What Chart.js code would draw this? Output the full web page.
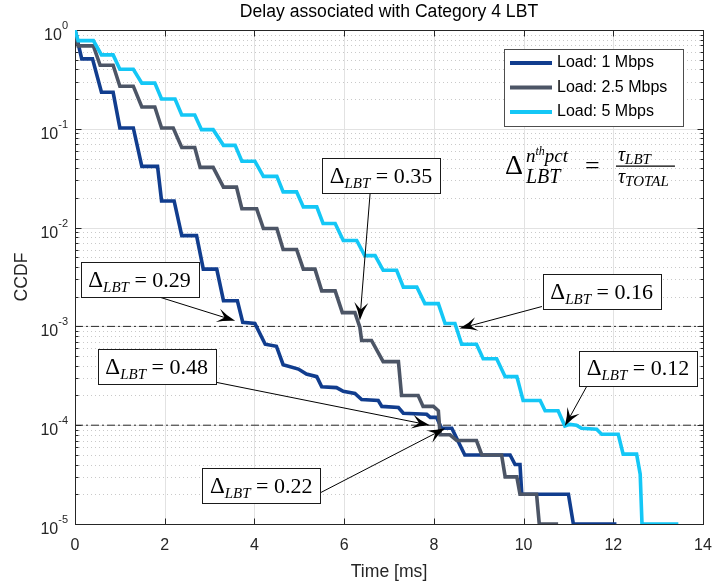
<!DOCTYPE html>
<html>
<head>
<meta charset="utf-8">
<script src="https://cdn.jsdelivr.net/npm/chart.js@4.4.0/dist/chart.umd.min.js"></script>
<style>
  html, body { margin: 0; padding: 0; background: #fff; }
  #ccdf-chart { display: block; }
</style>
</head>
<body>
<canvas id="ccdf-chart" width="715" height="585"></canvas>
<script>
// CCDF of LBT delay, one time/level pair of arrays per offered load
const load1Time = [0, 0.15, 0.39, 0.59, 0.85, 1.00, 1.30, 1.49, 1.84, 1.93, 2.21, 2.38, 2.71, 2.86, 3.16, 3.31, 3.62, 3.74, 4.01, 4.24, 4.49, 4.64, 4.98, 5.16, 5.39, 5.50, 5.83, 5.98, 6.24, 6.39, 6.76, 6.84, 7.21, 7.32, 7.84, 7.92, 8.06, 8.17, 8.40, 8.69, 9.70, 9.81, 9.92, 9.96, 11.00, 11.11, 12.07];
const load1Ccdf = [1, 0.51, 0.51, 0.234, 0.234, 0.102, 0.102, 0.0417, 0.0417, 0.0186, 0.0186, 0.0083, 0.0083, 0.0038, 0.0038, 0.00182, 0.00182, 0.0011, 0.00107, 0.00066, 0.00063, 0.00041, 0.00037, 0.00033, 0.00031, 0.000245, 0.00024, 0.00022, 0.00021, 0.000182, 0.000178, 0.000155, 0.000151, 0.000132, 0.000129, 0.00012, 0.00012, 0.000093, 0.000093, 0.00005, 0.00005, 0.00004, 0.00004, 0.00002, 0.00002, 0.00001, 0.00001];

const load2Time = [0, 0.07, 0.41, 0.56, 0.85, 1.00, 1.30, 1.49, 1.78, 1.93, 2.19, 2.38, 2.67, 2.79, 3.08, 3.31, 3.60, 3.72, 4.05, 4.20, 4.50, 4.64, 4.94, 5.09, 5.35, 5.50, 5.80, 5.96, 6.24, 6.35, 6.39, 6.61, 6.87, 7.21, 7.28, 7.65, 7.76, 7.99, 8.10, 8.14, 8.36, 8.51, 8.95, 9.07, 9.51, 9.59, 9.85, 9.92, 10.29, 10.35, 10.77];
const load2Ccdf = [1, 0.69, 0.69, 0.44, 0.44, 0.27, 0.27, 0.166, 0.166, 0.102, 0.102, 0.0646, 0.0646, 0.0407, 0.0407, 0.0257, 0.0257, 0.0155, 0.0155, 0.0098, 0.0098, 0.006, 0.006, 0.0038, 0.0038, 0.00229, 0.00229, 0.00138, 0.00138, 0.00098, 0.00072, 0.00072, 0.00044, 0.00044, 0.0002, 0.0002, 0.000155, 0.000155, 0.00014, 0.00008, 0.00008, 0.00007, 0.00007, 0.00005, 0.00005, 0.00003, 0.00003, 0.00002, 0.00002, 0.00001, 0.00001];

const load3Time = [0, 0.07, 0.41, 0.59, 0.85, 1.00, 1.30, 1.49, 1.78, 1.93, 2.23, 2.38, 2.67, 2.82, 3.08, 3.31, 3.57, 3.72, 4.01, 4.20, 4.50, 4.64, 4.94, 5.09, 5.39, 5.53, 5.80, 5.98, 6.28, 6.46, 6.69, 6.87, 7.17, 7.32, 7.62, 7.80, 8.10, 8.25, 8.47, 8.62, 8.95, 9.10, 9.40, 9.59, 9.85, 9.99, 10.37, 10.48, 10.77, 10.92, 11.03, 11.18, 11.29, 11.63, 11.74, 12.11, 12.22, 12.52, 12.60, 12.64, 13.45];
const load3Ccdf = [1, 0.78, 0.78, 0.56, 0.56, 0.40, 0.40, 0.29, 0.29, 0.20, 0.20, 0.138, 0.138, 0.098, 0.098, 0.068, 0.068, 0.047, 0.047, 0.033, 0.033, 0.023, 0.023, 0.0162, 0.0162, 0.011, 0.011, 0.0074, 0.0074, 0.0052, 0.0052, 0.0037, 0.0037, 0.0025, 0.0025, 0.0017, 0.0017, 0.00107, 0.00107, 0.00066, 0.00066, 0.00047, 0.00047, 0.00031, 0.00031, 0.000178, 0.000178, 0.00014, 0.00014, 0.000098, 0.000102, 0.0001, 0.000093, 0.000091, 0.000081, 0.000081, 0.000051, 0.000051, 0.000032, 0.00001, 0.00001];

const seriesLabels = ['Load: 1 Mbps', 'Load: 2.5 Mbps', 'Load: 5 Mbps'];
const refLevels = [1e-3, 1e-4];
const xTicks = [0, 2, 4, 6, 8, 10, 12, 14];
const yExponents = [0, -1, -2, -3, -4, -5];
const deltaLabels = ['0.35', '0.29', '0.16', '0.48', '0.22', '0.12'];

const seriesColors = ['#113d8e', '#4c5566', '#14c7f6'];
const FONT = '"Liberation Sans", Arial, Helvetica, sans-serif';
const SERIF = '"Liberation Serif", "Times New Roman", serif';
const AXIS_COLOR = '#262626';

// callout placement in axis units: box centre, arrow tail, arrow tip
const callouts = [
    { label: deltaLabels[0], box: [6.82, 3.35e-2], tail: [6.58, 2.26e-2], tip: [6.35, 1.15e-3] },
    { label: deltaLabels[1], box: [1.44, 2.98e-3], tail: [1.63, 2.15e-3], tip: [3.57, 1.14e-3] },
    { label: deltaLabels[2], box: [11.74, 2.23e-3], tail: [10.41, 1.59e-3], tip: [8.57, 9.5e-4] },
    { label: deltaLabels[3], box: [1.82, 3.9e-4], tail: [3.14, 2.72e-4], tip: [7.91, 1.0e-4] },
    { label: deltaLabels[4], box: [4.15, 2.45e-5], tail: [5.46, 2.06e-5], tip: [8.25, 9.3e-5] },
    { label: deltaLabels[5], box: [12.55, 3.77e-4], tail: [11.41, 2.48e-4], tip: [10.92, 9.8e-5] }
];
const formulaAnchor = [9.585, 3.51e-2];

function toPoints(times, levels) {
    return times.map((t, i) => ({ x: t, y: levels[i] }));
}

function strokeLine(ctx, x1, y1, x2, y2) {
    ctx.beginPath();
    ctx.moveTo(x1, y1);
    ctx.lineTo(x2, y2);
    ctx.stroke();
}

// text made of runs [text, font, dy]; returns total width
function runsWidth(ctx, runs) {
    let w = 0;
    runs.forEach(([text, font]) => { ctx.font = font; w += ctx.measureText(text).width; });
    return w;
}
function drawRuns(ctx, x, y, runs) {
    let cx = x;
    runs.forEach(([text, font, dy]) => {
        ctx.font = font;
        ctx.fillText(text, cx, y + (dy || 0));
        cx += ctx.measureText(text).width;
    });
}

// thin shaft with a swept-back filled head
function drawArrow(ctx, x1, y1, x2, y2) {
    const ang = Math.atan2(y2 - y1, x2 - x1);
    const len = 18, half = 7, notch = 7;
    strokeLine(ctx, x1, y1, x2 - Math.cos(ang) * notch, y2 - Math.sin(ang) * notch);
    ctx.save();
    ctx.translate(x2, y2);
    ctx.rotate(ang);
    ctx.beginPath();
    ctx.moveTo(0, 0);
    ctx.quadraticCurveTo(-len * 0.55, -half * 0.35, -len, -half);
    ctx.lineTo(-len + notch, 0);
    ctx.lineTo(-len, half);
    ctx.quadraticCurveTo(-len * 0.55, half * 0.35, 0, 0);
    ctx.closePath();
    ctx.fill();
    ctx.restore();
}

const axesFrame = {
    id: 'axesFrame',
    beforeDatasetsDraw(chart) {
        const { ctx, chartArea: a, scales: { x, y } } = chart;
        ctx.save();
        ctx.lineWidth = 1;

        // dotted minor grid between decades
        ctx.strokeStyle = '#c9c9c9';
        ctx.setLineDash([1, 3]);
        for (let e = -5; e < 0; e++) {
            for (let m = 2; m <= 9; m++) {
                const py = Math.round(y.getPixelForValue(m * Math.pow(10, e))) + 0.5;
                strokeLine(ctx, a.left, py, a.right, py);
            }
        }
        ctx.setLineDash([]);

        // major grid
        ctx.strokeStyle = '#e2e2e2';
        xTicks.slice(1, -1).forEach(v => {
            const px = Math.round(x.getPixelForValue(v)) + 0.5;
            strokeLine(ctx, px, a.top, px, a.bottom);
        });
        yExponents.slice(1, -1).forEach(e => {
            const py = Math.round(y.getPixelForValue(Math.pow(10, e))) + 0.5;
            strokeLine(ctx, a.left, py, a.right, py);
        });

        // axes box with inward ticks
        ctx.strokeStyle = AXIS_COLOR;
        const L = Math.round(a.left) + 0.5, R = Math.round(a.right) + 0.5;
        const T = Math.round(a.top) + 0.5, B = Math.round(a.bottom) + 0.5;
        ctx.strokeRect(L, T, R - L, B - T);
        xTicks.forEach(v => {
            const px = Math.round(x.getPixelForValue(v)) + 0.5;
            strokeLine(ctx, px, B, px, B - 6);
            strokeLine(ctx, px, T, px, T + 6);
        });
        yExponents.forEach(e => {
            const py = Math.round(y.getPixelForValue(Math.pow(10, e))) + 0.5;
            strokeLine(ctx, L, py, L + 6, py);
            strokeLine(ctx, R, py, R - 6, py);
        });
        for (let e = -5; e < 0; e++) {
            for (let m = 2; m <= 9; m++) {
                const py = Math.round(y.getPixelForValue(m * Math.pow(10, e))) + 0.5;
                strokeLine(ctx, L, py, L + 3, py);
                strokeLine(ctx, R, py, R - 3, py);
            }
        }

        // power-of-ten labels on the log axis
        ctx.fillStyle = AXIS_COLOR;
        ctx.textBaseline = 'alphabetic';
        yExponents.forEach(e => {
            const py = y.getPixelForValue(Math.pow(10, e));
            const exp = e === 0 ? '0' : '-' + Math.abs(e);
            ctx.font = '11px ' + FONT;
            const ew = ctx.measureText(exp).width;
            ctx.font = '16px ' + FONT;
            const bw = ctx.measureText('10').width;
            const right = a.left - 7;
            ctx.fillText('10', right - ew - bw, py + 10);
            ctx.font = '11px ' + FONT;
            ctx.fillText(exp, right - ew, py - 1);
        });
        ctx.restore();
    },
    afterDatasetsDraw(chart) {
        const { ctx, chartArea: a, scales: { x, y } } = chart;
        ctx.save();

        // title over the plot area
        ctx.fillStyle = '#000';
        ctx.font = '17.6px ' + FONT;
        ctx.textAlign = 'center';
        ctx.textBaseline = 'middle';
        ctx.fillText('Delay associated with Category 4 LBT', (a.left + a.right) / 2, 12);
        ctx.textAlign = 'left';
        ctx.textBaseline = 'alphabetic';

        // Δ_LBT callouts
        callouts.forEach(c => {
            const bx = x.getPixelForValue(c.box[0]), by = y.getPixelForValue(c.box[1]);
            ctx.fillStyle = '#000';
            ctx.strokeStyle = '#000';
            ctx.lineWidth = 1;
            drawArrow(ctx, x.getPixelForValue(c.tail[0]), y.getPixelForValue(c.tail[1]),
                x.getPixelForValue(c.tip[0]), y.getPixelForValue(c.tip[1]));
            const w = 118, h = 35;
            const left = Math.round(bx - w / 2) + 0.5, top = Math.round(by - h / 2) + 0.5;
            ctx.fillStyle = '#fff';
            ctx.fillRect(left, top, w, h);
            ctx.strokeStyle = '#1a1a1a';
            ctx.strokeRect(left, top, w, h);
            const runs = [
                ['\u0394', '23px ' + SERIF, 0],
                ['LBT', 'italic 15px ' + SERIF, 5],
                [' = ' + c.label, '22px ' + SERIF, 0]
            ];
            ctx.fillStyle = '#000';
            drawRuns(ctx, bx - runsWidth(ctx, runs) / 2, by + 7, runs);
        });

        // Δ^{n-th pct}_{LBT} = τ_LBT / τ_TOTAL
        const fx = x.getPixelForValue(formulaAnchor[0]);
        const fy = y.getPixelForValue(formulaAnchor[1]);
        ctx.fillStyle = '#000';
        drawRuns(ctx, fx, fy, [['\u0394', '28px ' + SERIF, 0]]);
        drawRuns(ctx, fx + 21, fy - 12, [['n', 'italic 19px ' + SERIF, 0], ['th', 'italic 12px ' + SERIF, -7], ['pct', 'italic 19px ' + SERIF, 0]]);
        drawRuns(ctx, fx + 21, fy + 9, [['LBT', 'italic 20px ' + SERIF, 0]]);
        drawRuns(ctx, fx + 80, fy, [['=', '26px ' + SERIF, 0]]);
        ctx.strokeStyle = '#000';
        ctx.lineWidth = 1.2;
        strokeLine(ctx, fx + 111, fy - 7.5, fx + 170, fy - 7.5);
        drawRuns(ctx, fx + 113, fy - 13, [['\u03C4', 'italic 20px ' + SERIF, 0], ['LBT', 'italic 15px ' + SERIF, 3]]);
        drawRuns(ctx, fx + 113, fy + 9, [['\u03C4', 'italic 20px ' + SERIF, 0], ['TOTAL', 'italic 15px ' + SERIF, 3]]);

        // legend box in the upper right corner
        const lx = a.right - 199, ly = a.top + 19, lw = 179, lh = 77;
        ctx.fillStyle = '#fff';
        ctx.fillRect(lx + 0.5, ly + 0.5, lw, lh);
        ctx.strokeStyle = '#4d4d4d';
        ctx.lineWidth = 1;
        ctx.strokeRect(lx + 0.5, ly + 0.5, lw, lh);
        ctx.font = '16px ' + FONT;
        ctx.textBaseline = 'middle';
        chart.data.datasets.slice(0, seriesLabels.length).forEach((ds, i) => {
            const ry = ly + 14 + i * 24.5;
            ctx.strokeStyle = ds.borderColor;
            ctx.lineWidth = 4;
            strokeLine(ctx, lx + 6, ry, lx + 48, ry);
            ctx.fillStyle = '#000';
            ctx.fillText(ds.label, lx + 53, ry);
        });
        ctx.restore();
    }
};

const curves = [
    toPoints(load1Time, load1Ccdf),
    toPoints(load2Time, load2Ccdf),
    toPoints(load3Time, load3Ccdf)
];

const datasets = curves.map((pts, i) => ({
    label: seriesLabels[i],
    data: pts,
    borderColor: seriesColors[i],
    borderWidth: 3.6,
    pointRadius: 0,
    tension: 0,
    fill: false,
    order: seriesLabels.length - 1 - i
}));
refLevels.forEach(level => {
    datasets.push({
        label: 'ref ' + level,
        data: [{ x: xTicks[0], y: level }, { x: xTicks[xTicks.length - 1], y: level }],
        borderColor: '#2b2b2b',
        borderWidth: 1,
        borderDash: [8, 3, 2, 3],
        pointRadius: 0,
        fill: false,
        order: 10
    });
});

new Chart(document.getElementById('ccdf-chart').getContext('2d'), {
    type: 'line',
    data: { datasets: datasets },
    options: {
        responsive: false,
        animation: false,
        devicePixelRatio: 1,
        events: [],
        layout: { padding: { left: 0, right: 12, top: 30, bottom: 0 } },
        plugins: { legend: { display: false }, tooltip: { enabled: false } },
        scales: {
            x: {
                type: 'linear',
                min: xTicks[0],
                max: xTicks[xTicks.length - 1],
                afterBuildTicks: s => { s.ticks = xTicks.map(v => ({ value: v })); },
                afterFit: s => {
                    s.height = 61;
                    s.paddingLeft = 0;
                    s.paddingRight = 0;
                },
                grid: { display: false, drawTicks: false },
                border: { display: false },
                ticks: { font: { family: FONT, size: 16 }, color: AXIS_COLOR, padding: 12, maxRotation: 0 },
                title: { display: true, text: 'Time [ms]', font: { family: FONT, size: 17.6 }, color: AXIS_COLOR, padding: { top: 0, bottom: 2 } }
            },
            y: {
                type: 'logarithmic',
                min: Math.pow(10, yExponents[yExponents.length - 1]),
                max: Math.pow(10, yExponents[0]),
                afterFit: s => {
                    s.width = 75;
                    s.paddingTop = 0;
                    s.paddingBottom = 0;
                },
                grid: { display: false, drawTicks: false },
                border: { display: false },
                ticks: { display: false },
                title: { display: true, text: 'CCDF', font: { family: FONT, size: 17.6 }, color: AXIS_COLOR, padding: { top: 12, bottom: 0 } }
            }
        }
    },
    plugins: [axesFrame]
});
</script>
</body>
</html>
